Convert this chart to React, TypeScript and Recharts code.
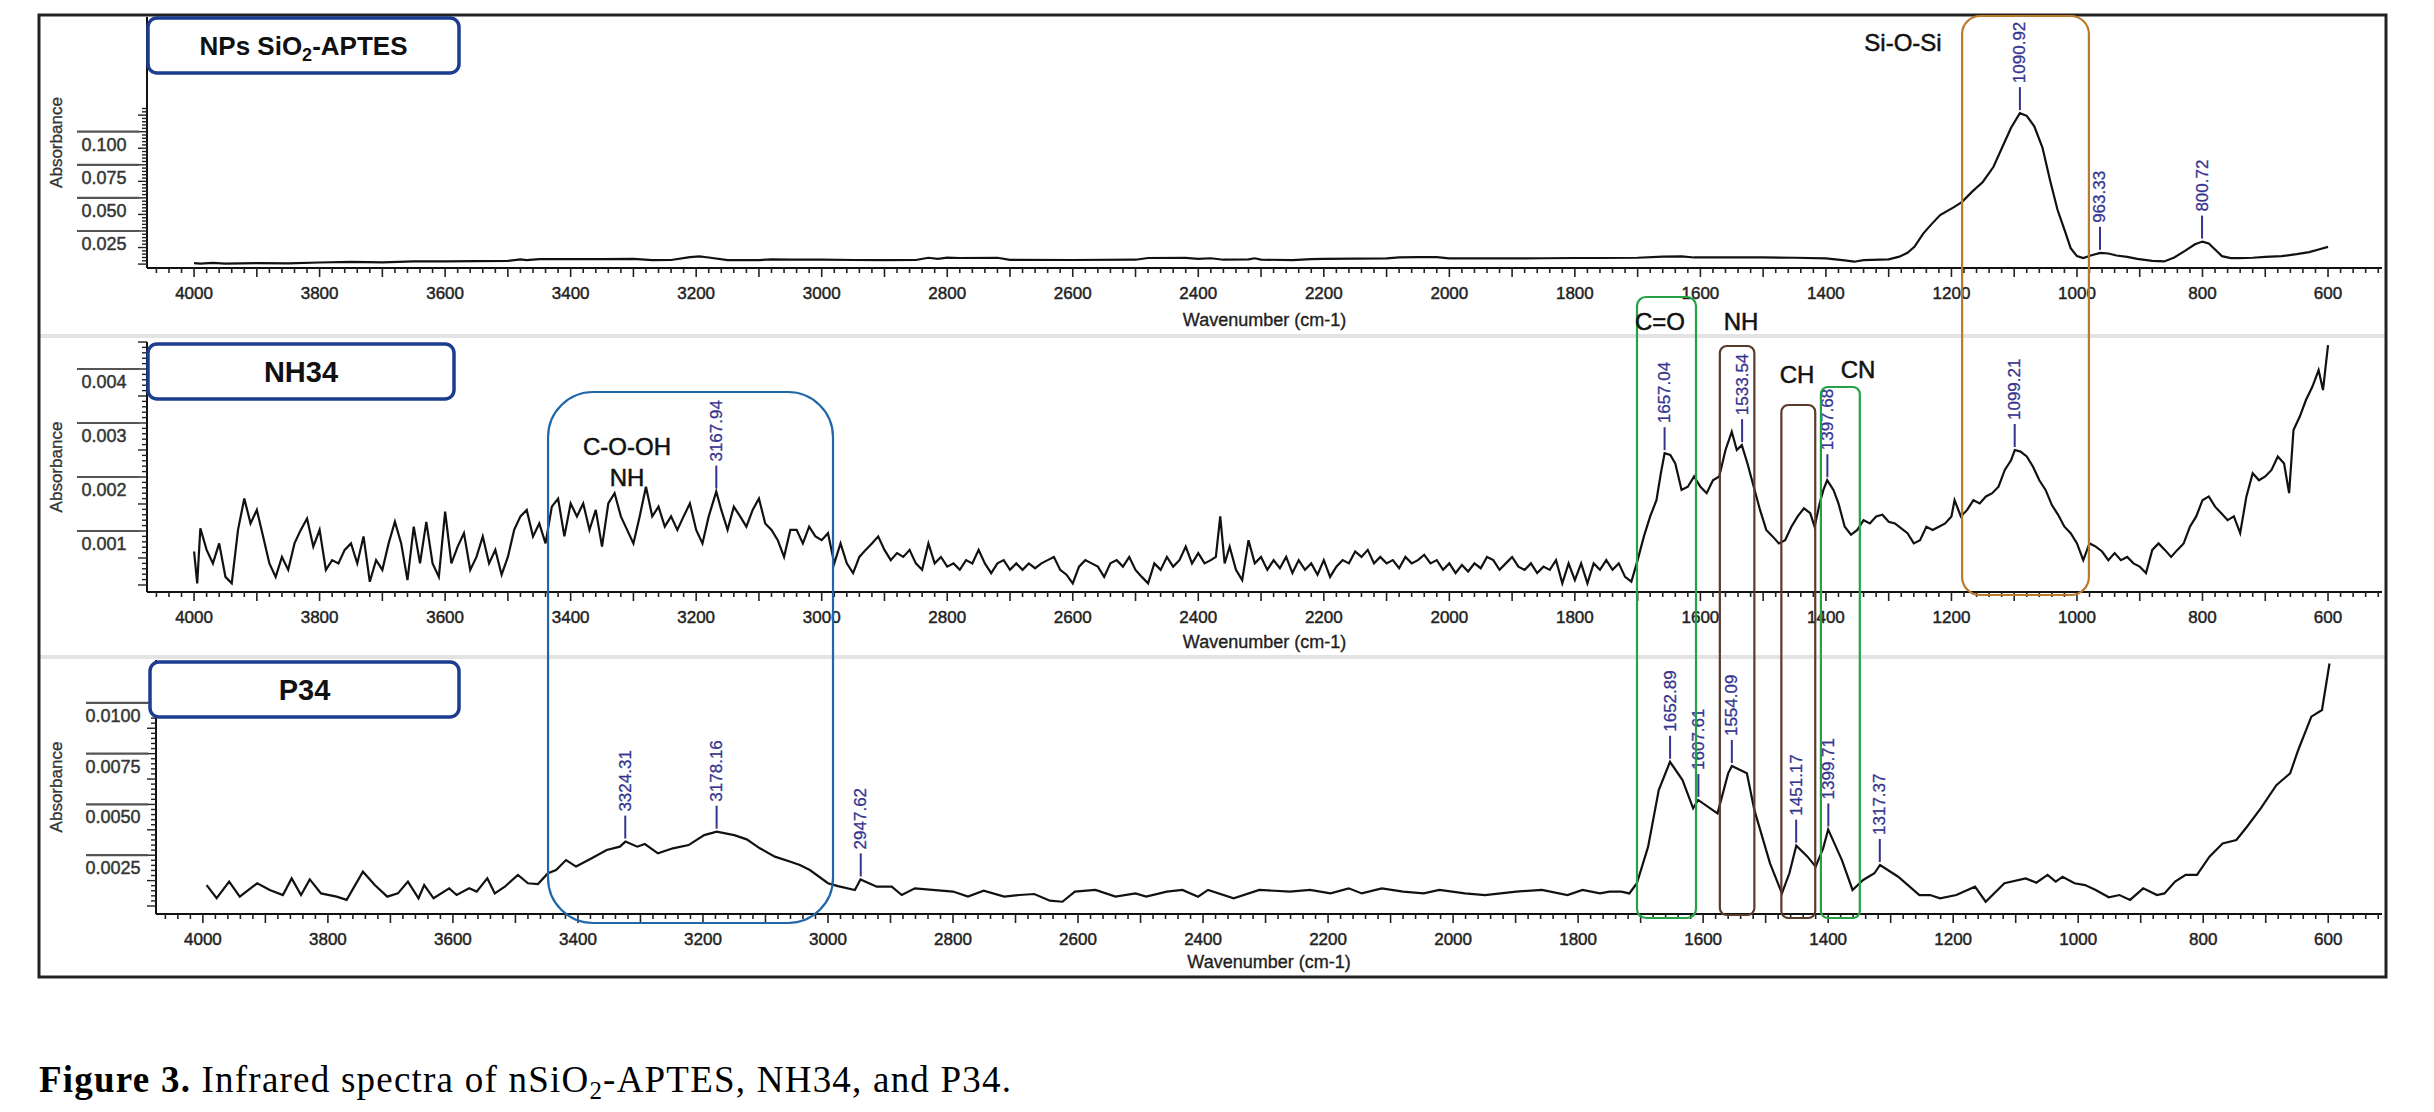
import React from 'react';
import { ComposedChart, Line, Scatter, XAxis, YAxis, Label } from 'recharts';

const W = 2434;
const H = 1112;
const FONT = '"Liberation Sans", Arial, Helvetica, sans-serif';
const INK = '#111';
const PEAK_COLOR = '#34348f';

// shared wavenumber axis (cm-1), drawn reversed
const X_MIN = 514;
const X_MAX = 4075;
const X_LABELS = [4000, 3800, 3600, 3400, 3200, 3000, 2800, 2600, 2400, 2200, 2000, 1800, 1600, 1400, 1200, 1000, 800, 600];
const X_TICKS: number[] = [];
for (let v = 520; v <= 4060; v += 20) X_TICKS.push(v);

// NPs SiO2-APTES  [wavenumber, absorbance]
const SIO2_APTES: [number, number][] = [
  [4000, 0.0008], [3990, 0.0003], [3970, 0.0009], [3950, 0.0004], [3900, 0.0008], [3850, 0.0006], [3800, 0.0012],
  [3750, 0.0016], [3700, 0.0013], [3650, 0.002], [3600, 0.0021], [3550, 0.0022], [3500, 0.0024], [3480, 0.0036],
  [3470, 0.003], [3450, 0.0037], [3400, 0.0038], [3350, 0.0038], [3300, 0.0039], [3270, 0.003], [3240, 0.0031],
  [3210, 0.0052], [3195, 0.0058], [3180, 0.005], [3150, 0.003], [3100, 0.003], [3080, 0.0036], [3050, 0.0034],
  [3000, 0.0033], [2950, 0.0031], [2900, 0.003], [2850, 0.0031], [2830, 0.0048], [2815, 0.004], [2800, 0.0049],
  [2780, 0.0046], [2720, 0.0048], [2700, 0.0032], [2600, 0.0031], [2500, 0.0033], [2480, 0.0046], [2420, 0.0047],
  [2400, 0.004], [2380, 0.0044], [2360, 0.0033], [2320, 0.0036], [2310, 0.0044], [2300, 0.0034], [2250, 0.003],
  [2220, 0.0038], [2200, 0.004], [2150, 0.0041], [2100, 0.0043], [2080, 0.005], [2050, 0.0052], [2020, 0.0053],
  [2000, 0.0043], [1950, 0.0043], [1900, 0.0043], [1850, 0.0044], [1800, 0.0046], [1760, 0.0046], [1700, 0.0048],
  [1660, 0.0056], [1630, 0.0058], [1610, 0.005], [1550, 0.005], [1500, 0.0051], [1450, 0.0048], [1400, 0.0043],
  [1370, 0.0028], [1355, 0.0018], [1340, 0.003], [1300, 0.0036], [1283, 0.0056], [1270, 0.0085], [1259, 0.013],
  [1245, 0.023], [1232, 0.03], [1218, 0.037], [1196, 0.043], [1183, 0.047], [1167, 0.0547], [1150, 0.062],
  [1133, 0.0735], [1116, 0.0915], [1105, 0.103], [1091, 0.114], [1080, 0.112], [1068, 0.104], [1055, 0.088],
  [1043, 0.0635], [1031, 0.041], [1020, 0.026], [1010, 0.012], [1000, 0.006], [990, 0.0045], [978, 0.0065],
  [963, 0.0085], [950, 0.008], [937, 0.0065], [920, 0.0055], [904, 0.004], [880, 0.0025], [861, 0.002],
  [845, 0.005], [828, 0.01], [812, 0.015], [800, 0.017], [790, 0.0155], [780, 0.011], [769, 0.006], [755, 0.0045],
  [743, 0.0045], [720, 0.0048], [700, 0.0055], [674, 0.006], [650, 0.0075], [630, 0.009], [615, 0.011], [600, 0.013],
];

// NH34
const NH34: [number, number][] = [
  [4000, 0.00062], [3995, 0.00003], [3990, 0.00105], [3980, 0.00065], [3970, 0.0004], [3960, 0.00077], [3950, 0.00015],
  [3940, 0.00003], [3930, 0.00102], [3920, 0.0016], [3910, 0.00114], [3900, 0.00139], [3890, 0.0009], [3880, 0.0004],
  [3870, 0.00015], [3860, 0.00052], [3850, 0.00028], [3840, 0.00077], [3830, 0.00102], [3820, 0.00123], [3810, 0.00071],
  [3800, 0.00102], [3790, 0.00028], [3780, 0.00046], [3770, 0.0004], [3760, 0.00065], [3750, 0.00077], [3740, 0.0004],
  [3730, 0.0009], [3720, 0.00006], [3710, 0.00046], [3700, 0.00028], [3690, 0.00077], [3680, 0.00117], [3670, 0.00077],
  [3660, 0.00009], [3650, 0.00108], [3640, 0.0004], [3630, 0.00117], [3620, 0.0004], [3610, 0.00015], [3600, 0.00136],
  [3590, 0.0004], [3580, 0.00071], [3570, 0.00096], [3560, 0.00028], [3550, 0.00052], [3540, 0.0009], [3530, 0.0004],
  [3520, 0.00065], [3510, 0.00019], [3500, 0.00052], [3490, 0.00102], [3480, 0.00127], [3470, 0.00139], [3460, 0.0009],
  [3450, 0.00114], [3440, 0.00077], [3430, 0.00145], [3420, 0.0016], [3410, 0.0009], [3400, 0.00151], [3390, 0.00127],
  [3380, 0.00151], [3370, 0.00102], [3360, 0.00139], [3350, 0.00071], [3340, 0.00151], [3330, 0.0017], [3320, 0.00127],
  [3310, 0.00102], [3300, 0.00077], [3290, 0.00127], [3280, 0.00182], [3270, 0.00127], [3260, 0.00145], [3250, 0.00108],
  [3240, 0.00127], [3230, 0.00102], [3220, 0.00127], [3210, 0.00151], [3200, 0.00102], [3190, 0.00077], [3180, 0.00127],
  [3168, 0.00173], [3160, 0.00139], [3150, 0.00102], [3140, 0.00145], [3130, 0.00127], [3120, 0.00108], [3110, 0.00139],
  [3100, 0.0016], [3090, 0.00114], [3080, 0.00102], [3070, 0.00083], [3060, 0.00052], [3050, 0.00102], [3040, 0.00102],
  [3030, 0.00077], [3020, 0.00108], [3010, 0.0009], [3000, 0.00083], [2990, 0.00096], [2980, 0.0004], [2970, 0.00077],
  [2960, 0.0004], [2950, 0.00022], [2940, 0.00052], [2930, 0.00065], [2920, 0.00077], [2910, 0.0009], [2900, 0.00065],
  [2890, 0.00046], [2880, 0.00059], [2870, 0.00052], [2860, 0.00065], [2850, 0.0004], [2840, 0.00028], [2830, 0.00077],
  [2820, 0.0004], [2810, 0.00052], [2800, 0.00034], [2790, 0.0004], [2780, 0.00028], [2770, 0.00046], [2760, 0.0004],
  [2750, 0.00065], [2740, 0.0004], [2730, 0.00022], [2720, 0.0004], [2710, 0.00046], [2700, 0.00028], [2690, 0.0004],
  [2680, 0.00028], [2670, 0.0004], [2660, 0.00031], [2650, 0.0004], [2640, 0.00046], [2630, 0.00052], [2620, 0.00028],
  [2610, 0.00019], [2600, 0.00003], [2590, 0.00034], [2580, 0.00046], [2570, 0.0004], [2560, 0.00034], [2550, 0.00015],
  [2540, 0.0004], [2530, 0.00046], [2520, 0.00034], [2510, 0.00052], [2500, 0.00028], [2490, 0.00015], [2480, 0.00003],
  [2470, 0.0004], [2460, 0.00028], [2450, 0.00052], [2440, 0.00034], [2430, 0.00046], [2420, 0.00071], [2410, 0.0004],
  [2400, 0.00059], [2390, 0.0004], [2380, 0.00046], [2372, 0.00052], [2365, 0.00127], [2358, 0.0004], [2350, 0.00071],
  [2340, 0.00028], [2330, 0.00009], [2320, 0.00083], [2310, 0.0004], [2300, 0.00052], [2290, 0.00028], [2280, 0.00046],
  [2270, 0.00031], [2260, 0.00052], [2250, 0.00022], [2240, 0.00046], [2230, 0.00028], [2220, 0.0004], [2210, 0.00019],
  [2200, 0.00046], [2190, 0.00015], [2180, 0.00034], [2170, 0.00046], [2160, 0.0004], [2150, 0.00062], [2140, 0.00052],
  [2130, 0.00065], [2120, 0.0004], [2110, 0.00052], [2100, 0.0004], [2090, 0.00046], [2080, 0.00031], [2070, 0.00052],
  [2060, 0.0004], [2050, 0.00046], [2040, 0.00056], [2030, 0.0004], [2020, 0.00046], [2010, 0.00028], [2000, 0.0004],
  [1990, 0.00022], [1980, 0.00037], [1970, 0.00025], [1960, 0.0004], [1950, 0.00031], [1940, 0.00052], [1930, 0.00046],
  [1920, 0.00028], [1910, 0.0004], [1900, 0.00052], [1890, 0.00034], [1880, 0.00028], [1870, 0.0004], [1860, 0.00022],
  [1850, 0.00034], [1840, 0.00028], [1830, 0.00046], [1820, 0.00003], [1810, 0.0004], [1800, 0.00009], [1790, 0.0004],
  [1780, 0.00003], [1770, 0.0004], [1760, 0.00028], [1750, 0.00046], [1740, 0.00028], [1730, 0.0004], [1720, 0.00015],
  [1710, 0.00006], [1700, 0.00046], [1690, 0.0009], [1680, 0.00127], [1670, 0.00157], [1663, 0.00207], [1657, 0.00244],
  [1648, 0.00241], [1640, 0.00225], [1630, 0.00176], [1620, 0.00182], [1610, 0.00201], [1600, 0.00182], [1590, 0.0017],
  [1580, 0.00194], [1570, 0.00201], [1560, 0.0025], [1550, 0.00284], [1542, 0.0025], [1534, 0.00259], [1525, 0.00225],
  [1515, 0.00182], [1505, 0.00139], [1495, 0.00102], [1485, 0.0009], [1475, 0.00077], [1465, 0.00083], [1455, 0.00108],
  [1445, 0.00127], [1435, 0.00142], [1425, 0.00133], [1418, 0.00108], [1410, 0.00151], [1404, 0.00176], [1398, 0.00194],
  [1388, 0.00176], [1380, 0.00151], [1370, 0.00108], [1360, 0.00093], [1350, 0.00102], [1340, 0.0012], [1330, 0.00114],
  [1320, 0.00127], [1310, 0.0013], [1300, 0.00117], [1290, 0.00114], [1280, 0.00105], [1270, 0.00096], [1260, 0.00077],
  [1250, 0.00083], [1240, 0.00108], [1230, 0.00102], [1220, 0.00108], [1210, 0.00114], [1200, 0.00127], [1195, 0.00157],
  [1185, 0.00127], [1175, 0.00139], [1165, 0.00157], [1155, 0.00151], [1145, 0.00164], [1135, 0.0017], [1125, 0.00182],
  [1115, 0.00213], [1105, 0.00231], [1099, 0.0025], [1090, 0.00247], [1080, 0.00238], [1070, 0.00219], [1060, 0.00194],
  [1050, 0.00176], [1040, 0.00148], [1030, 0.0013], [1020, 0.00108], [1010, 0.00096], [1000, 0.00077], [990, 0.00046],
  [980, 0.00077], [970, 0.00071], [960, 0.00062], [950, 0.00046], [940, 0.00059], [930, 0.00046], [920, 0.00052],
  [910, 0.0004], [900, 0.00034], [890, 0.00022], [880, 0.00065], [870, 0.00077], [860, 0.00065], [850, 0.00052],
  [840, 0.00065], [830, 0.00077], [820, 0.00108], [810, 0.00127], [800, 0.00157], [790, 0.00164], [780, 0.00145],
  [770, 0.00133], [760, 0.0012], [750, 0.00127], [740, 0.00096], [730, 0.00164], [720, 0.00207], [710, 0.00194],
  [700, 0.00201], [690, 0.00213], [680, 0.00238], [670, 0.00225], [662, 0.0017], [655, 0.00287], [645, 0.00312],
  [635, 0.00343], [625, 0.00367], [615, 0.00398], [608, 0.00361], [600, 0.00444],
];

// P34
const P34: [number, number][] = [
  [3994, 0.00103], [3978, 0.00038], [3958, 0.0012], [3941, 0.00046], [3913, 0.00112], [3893, 0.00079], [3872, 0.00054],
  [3858, 0.00136], [3843, 0.00054], [3829, 0.00131], [3811, 0.00062], [3786, 0.00046], [3770, 0.0003], [3744, 0.00169],
  [3725, 0.00103], [3705, 0.00046], [3688, 0.00062], [3672, 0.0012], [3655, 0.00038], [3646, 0.00103], [3631, 0.00038],
  [3606, 0.00087], [3594, 0.00054], [3574, 0.00087], [3562, 0.00071], [3545, 0.00136], [3533, 0.00062], [3517, 0.00095],
  [3496, 0.00153], [3480, 0.00112], [3464, 0.00108], [3448, 0.00161], [3435, 0.00177], [3419, 0.00226], [3403, 0.00194],
  [3378, 0.00235], [3354, 0.00276], [3333, 0.00292], [3324, 0.00317], [3305, 0.00292], [3293, 0.00305], [3272, 0.00259],
  [3248, 0.00284], [3223, 0.003], [3198, 0.00349], [3178, 0.00366], [3150, 0.00349], [3130, 0.00328], [3109, 0.00284],
  [3085, 0.00243], [3060, 0.00218], [3045, 0.00202], [3029, 0.00177], [3000, 0.00112], [2984, 0.00098], [2957, 0.00079],
  [2948, 0.00131], [2922, 0.00095], [2898, 0.00095], [2882, 0.00054], [2861, 0.00087], [2833, 0.00079], [2800, 0.00071],
  [2776, 0.00046], [2751, 0.00075], [2718, 0.00046], [2694, 0.00054], [2670, 0.00059], [2645, 0.00026], [2625, 0.00021],
  [2605, 0.00071], [2572, 0.00079], [2540, 0.00046], [2508, 0.00062], [2491, 0.00046], [2458, 0.00071], [2433, 0.00079],
  [2408, 0.00046], [2392, 0.00079], [2351, 0.00038], [2310, 0.00079], [2261, 0.00071], [2229, 0.00079], [2196, 0.00062],
  [2167, 0.00087], [2146, 0.00062], [2114, 0.00087], [2080, 0.00071], [2047, 0.00062], [2022, 0.00079], [1981, 0.00062],
  [1949, 0.00054], [1899, 0.00071], [1858, 0.00079], [1817, 0.00054], [1793, 0.00079], [1765, 0.00062], [1750, 0.00071],
  [1731, 0.00071], [1718, 0.00062], [1706, 0.00112], [1688, 0.00292], [1671, 0.00571], [1653, 0.0071], [1633, 0.0062],
  [1616, 0.00481], [1608, 0.00522], [1577, 0.00456], [1560, 0.00653], [1554, 0.00689], [1530, 0.00653], [1518, 0.00472],
  [1493, 0.0021], [1474, 0.00062], [1462, 0.00161], [1451, 0.00297], [1433, 0.00243], [1420, 0.00194], [1408, 0.00284],
  [1400, 0.00377], [1378, 0.00226], [1361, 0.00079], [1344, 0.00128], [1326, 0.00161], [1317, 0.00202], [1288, 0.00144],
  [1254, 0.00054], [1237, 0.00054], [1221, 0.00038], [1195, 0.00054], [1165, 0.00095], [1148, 0.00021], [1118, 0.00112],
  [1084, 0.00136], [1067, 0.00115], [1049, 0.00153], [1036, 0.0012], [1025, 0.00144], [1006, 0.00112], [989, 0.00103],
  [972, 0.00079], [951, 0.00043], [934, 0.00054], [917, 0.0003], [896, 0.00087], [874, 0.00054], [862, 0.00062],
  [845, 0.0012], [828, 0.00153], [810, 0.00153], [790, 0.00243], [769, 0.00308], [747, 0.00325], [730, 0.0039],
  [708, 0.00481], [683, 0.00595], [661, 0.00653], [648, 0.00768], [627, 0.00932], [610, 0.00965], [598, 0.01194],
];

// peak picks: [wavenumber, absorbance, label]
const SIO2_PEAKS: [number, number, string][] = [
  [1090.92, 0.114, '1090.92'], [963.33, 0.0085, '963.33'], [800.72, 0.017, '800.72'],
];
const NH34_PEAKS: [number, number, string][] = [
  [3167.94, 0.00173, '3167.94'], [1657.04, 0.00244, '1657.04'], [1533.54, 0.00259, '1533.54'],
  [1397.68, 0.00194, '1397.68'], [1099.21, 0.0025, '1099.21'],
];
const P34_PEAKS: [number, number, string][] = [
  [3324.31, 0.00317, '3324.31'], [3178.16, 0.00366, '3178.16'], [2947.62, 0.00131, '2947.62'],
  [1652.89, 0.0071, '1652.89'], [1607.61, 0.00522, '1607.61'], [1554.09, 0.00689, '1554.09'],
  [1451.17, 0.00297, '1451.17'], [1399.71, 0.00377, '1399.71'], [1317.37, 0.00202, '1317.37'],
];

// y-axis labels (one per major step)
const SIO2_Y_LABELS = ['0.025', '0.050', '0.075', '0.100'];
const NH34_Y_LABELS = ['0.001', '0.002', '0.003', '0.004'];
const P34_Y_LABELS = ['0.0025', '0.0050', '0.0075', '0.0100'];

const toPoints = (arr: [number, number][]) => arr.map(([wn, a]) => ({ wn, a }));
const toPeaks = (arr: [number, number, string][]) => arr.map(([wn, a, label]) => ({ wn, a, label }));

// slightly heavier text, the original is a blurred bitmap
const heavy = (c: string, w = 0.45) => ({ fill: c, stroke: c, strokeWidth: w });

function XTick({ x, y, payload }: any) {
  const v = payload.value;
  const big = v % 100 === 0;
  return (
    <g>
      <line x1={x} x2={x} y1={y} y2={y + (big ? 9 : 5)} stroke="#222" strokeWidth={1.6} />
      {X_LABELS.includes(v) && (
        <text x={x} y={y + 31} textAnchor="middle" fontSize={17} fontFamily={FONT} {...heavy('#222')}>
          {v}
        </text>
      )}
    </g>
  );
}

function makeYTick(step: number, labels: string[]) {
  return function YTick({ x, y, payload }: any) {
    const k = Math.round(payload.value / step);
    const major = k > 0 && k % 10 === 0;
    const half = k % 5 === 0;
    return (
      <g>
        <line x1={x - (half ? 9 : 5)} x2={x} y1={y} y2={y} stroke="#222" strokeWidth={1.4} />
        {major && (
          <>
            <line x1={x - 70} x2={x - 8} y1={y} y2={y} stroke="#555" strokeWidth={2.2} />
            <text x={x - 43} y={y + 19} textAnchor="middle" fontSize={18} fontFamily={FONT} {...heavy('#333')}>
              {labels[k / 10 - 1]}
            </text>
          </>
        )}
      </g>
    );
  };
}

function PeakMark(props: any) {
  const { cx, cy, payload } = props;
  if (cx == null || cy == null) return null;
  const ty = cy - 30;
  return (
    <g>
      <line x1={cx} x2={cx} y1={cy - 3} y2={cy - 26} stroke={PEAK_COLOR} strokeWidth={2} />
      <text
        x={cx}
        y={ty}
        transform={`rotate(-90 ${cx} ${ty})`}
        textAnchor="start"
        dominantBaseline="central"
        fontSize={17}
        fontFamily={FONT}
        {...heavy(PEAK_COLOR, 0.3)}
      >
        {payload.label}
      </text>
    </g>
  );
}

interface PanelProps {
  top: number;
  height: number;
  margin: { top: number; right: number; bottom: number; left: number };
  xAxisHeight: number;
  yDomain: [number, number];
  yStep: number;
  yCount: number;
  yLabels: string[];
  labelDy: number;
  data: [number, number][];
  peaks: [number, number, string][];
}

function Panel(p: PanelProps) {
  const yTicks = Array.from({ length: p.yCount + 1 }, (_, i) => +(i * p.yStep).toFixed(6));
  const YTick = makeYTick(p.yStep, p.yLabels);
  return (
    <div style={{ position: 'absolute', left: 0, top: p.top }}>
      <ComposedChart width={W} height={p.height} margin={p.margin}>
        <XAxis
          dataKey="wn"
          type="number"
          domain={[X_MIN, X_MAX]}
          reversed
          allowDataOverflow
          ticks={X_TICKS}
          interval={0}
          height={p.xAxisHeight}
          tickSize={0}
          tickMargin={0}
          tickLine={false}
          axisLine={{ stroke: '#111', strokeWidth: 2 }}
          tick={(t: any) => <XTick {...t} />}
        >
          <Label
            content={(lp: any) => {
              const vb = lp.viewBox || {};
              return (
                <text x={vb.x + vb.width / 2} y={vb.y + p.labelDy} textAnchor="middle" fontSize={18} fontFamily={FONT} {...heavy('#222', 0.35)}>
                  Wavenumber (cm-1)
                </text>
              );
            }}
          />
        </XAxis>
        <YAxis
          dataKey="a"
          type="number"
          domain={p.yDomain}
          allowDataOverflow
          ticks={yTicks}
          interval={0}
          width={100}
          tickSize={0}
          tickMargin={0}
          tickLine={false}
          axisLine={{ stroke: '#111', strokeWidth: 2 }}
          tick={(t: any) => <YTick {...t} />}
        >
          <Label
            content={(lp: any) => {
              const vb = lp.viewBox || {};
              const cy = vb.y + vb.height / 2;
              return (
                <text
                  x={56}
                  y={cy}
                  transform={`rotate(-90 56 ${cy})`}
                  textAnchor="middle"
                  dominantBaseline="central"
                  fontSize={17}
                  fontFamily={FONT}
                  {...heavy('#333', 0.35)}
                >
                  Absorbance
                </text>
              );
            }}
          />
        </YAxis>
        <Line
          data={toPoints(p.data)}
          dataKey="a"
          type="linear"
          stroke={INK}
          strokeWidth={2.2}
          dot={false}
          activeDot={false}
          isAnimationActive={false}
        />
        <Scatter data={toPeaks(p.peaks)} dataKey="a" shape={(s: any) => <PeakMark {...s} />} isAnimationActive={false} />
      </ComposedChart>
    </div>
  );
}

// page x of a wavenumber in the middle panel (used for the annotation boxes that span panels)
const P2_LEFT = 147;
const PLOT_RIGHT = 2382;
const xPage = (wn: number) => P2_LEFT + ((X_MAX - wn) / (X_MAX - X_MIN)) * (PLOT_RIGHT - P2_LEFT);

const BOXES = [
  { from: 1183, to: 981, top: 16, bottom: 595, r: 18, color: '#b97a2c' },
  { from: 3436, to: 2982, top: 392, bottom: 923, r: 45, color: '#1f67a8' },
  { from: 1701, to: 1607, top: 297, bottom: 918, r: 9, color: '#26a246' },
  { from: 1569, to: 1514, top: 346, bottom: 915, r: 7, color: '#5a3a2a' },
  { from: 1471, to: 1417, top: 405, bottom: 918, r: 7, color: '#5a3a2a' },
  { from: 1408, to: 1346, top: 387, bottom: 918, r: 7, color: '#26a246' },
];

const GROUP_LABELS = [
  { text: 'Si-O-Si', x: 1903, y: 51 },
  { text: 'C=O', x: 1660, y: 330 },
  { text: 'NH', x: 1741, y: 330 },
  { text: 'CH', x: 1797, y: 383 },
  { text: 'CN', x: 1858, y: 378 },
  { text: 'C-O-OH', x: 627, y: 455 },
  { text: 'NH', x: 627, y: 486 },
];

function TitleBox({ x, y, w, h, size, children }: any) {
  return (
    <g>
      <rect x={x} y={y} width={w} height={h} rx={9} fill="#fff" stroke="#1c3d8f" strokeWidth={3.5} />
      <text x={x + w / 2} y={y + h / 2 + size * 0.36} textAnchor="middle" fontSize={size} fontWeight="bold" fill="#111" fontFamily={FONT}>
        {children}
      </text>
    </g>
  );
}

export default function App() {
  return (
    <div style={{ position: 'absolute', left: 0, top: 0, width: W, height: H, background: '#fff', overflow: 'hidden' }}>
      <Panel
        top={0}
        height={334}
        margin={{ top: 17, right: 52, bottom: 6, left: 47 }}
        xAxisHeight={60}
        yDomain={[-0.00295, 0.1866]}
        yStep={0.0025}
        yCount={47}
        yLabels={SIO2_Y_LABELS}
        labelDy={58}
        data={SIO2_APTES}
        peaks={SIO2_PEAKS}
      />
      <Panel
        top={334}
        height={322}
        margin={{ top: 8, right: 52, bottom: 6, left: 47 }}
        xAxisHeight={58}
        yDomain={[-0.00013, 0.0045]}
        yStep={0.0001}
        yCount={45}
        yLabels={NH34_Y_LABELS}
        labelDy={56}
        data={NH34}
        peaks={NH34_PEAKS}
      />
      <Panel
        top={656}
        height={321}
        margin={{ top: 4, right: 52, bottom: 6, left: 56 }}
        xAxisHeight={57}
        yDomain={[-0.000394, 0.01211]}
        yStep={0.00025}
        yCount={40}
        yLabels={P34_Y_LABELS}
        labelDy={54}
        data={P34}
        peaks={P34_PEAKS}
      />
      <svg width={W} height={H} style={{ position: 'absolute', left: 0, top: 0, pointerEvents: 'none' }}>
        <line x1={40} x2={2386} y1={336} y2={336} stroke="#e3e3e3" strokeWidth={4} />
        <line x1={40} x2={2386} y1={657} y2={657} stroke="#e3e3e3" strokeWidth={4} />
        <rect x={39} y={15} width={2347} height={962} fill="none" stroke="#222" strokeWidth={3} />
        {BOXES.map((b, i) => {
          const x1 = xPage(b.from);
          const x2 = xPage(b.to);
          return (
            <rect key={i} x={x1} y={b.top} width={x2 - x1} height={b.bottom - b.top} rx={b.r} fill="none" stroke={b.color} strokeWidth={2.2} />
          );
        })}
        {GROUP_LABELS.map((g, i) => (
          <text key={i} x={g.x} y={g.y} textAnchor="middle" fontSize={24} fontFamily={FONT} {...heavy('#111', 0.5)}>
            {g.text}
          </text>
        ))}
        <TitleBox x={148} y={18} w={311} h={55} size={26}>
          NPs SiO<tspan fontSize={18} dy={6}>2</tspan>
          <tspan dy={-6}>-APTES</tspan>
        </TitleBox>
        <TitleBox x={148} y={344} w={306} h={55} size={29}>NH34</TitleBox>
        <TitleBox x={150} y={662} w={309} h={55} size={29}>P34</TitleBox>
        <text x={39} y={1092} fontSize={37} fill="#000" fontFamily='"Liberation Serif", "Times New Roman", serif' textLength={972} lengthAdjust="spacing">
          <tspan fontWeight="bold">Figure 3.</tspan>
          {' '}Infrared spectra of nSiO<tspan fontSize={25} dy={7}>2</tspan>
          <tspan dy={-7}>-APTES, NH34, and P34.</tspan>
        </text>
      </svg>
    </div>
  );
}
